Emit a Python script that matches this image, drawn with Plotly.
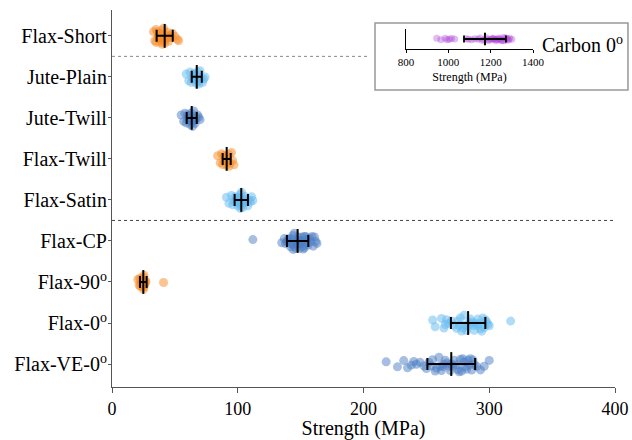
import plotly.graph_objects as go

# Specimen groups, listed bottom to top on the category axis
groups = ["Flax-VE-0<sup>o</sup>", "Flax-0<sup>o</sup>", "Flax-90<sup>o</sup>", "Flax-CP",
          "Flax-Satin", "Flax-Twill", "Jute-Twill", "Jute-Plain", "Flax-Short"]

# Individual specimen strengths (MPa)
flax_ve_0 = [218, 227, 232, 235, 238, 240, 242, 245, 248, 250, 252, 254, 255, 257, 258, 260,
             261, 262, 263, 264, 265, 266, 268, 269, 270, 271, 272, 274, 275, 276, 277, 278,
             279, 280, 281, 282, 283, 284, 285, 286, 287, 288, 290, 293, 296, 300]
flax_0 = [255, 257, 262, 264, 265, 266, 268, 270, 272, 274, 275, 276, 277, 278, 279, 280, 281,
          282, 283, 284, 285, 286, 287, 288, 289, 290, 291, 292, 293, 294, 295, 296, 297, 298,
          299, 300, 317]
flax_90 = [20.5, 21.5, 22, 22.5, 23, 23, 23.5, 24, 24, 24.5, 24.5, 25, 25, 25, 25.5, 25.5,
           26, 26, 26, 26, 26.5, 27, 41]
flax_cp = [112, 135, 137, 138, 139, 140, 140, 141, 142, 142, 143, 143, 144, 144, 145, 145, 146,
           146, 147, 147, 148, 148, 149, 149, 150, 150, 151, 151, 152, 152, 153, 153, 154, 155,
           155, 156, 157, 158, 159, 160, 161, 162, 163]
flax_satin = [91, 93, 95, 96, 97, 98, 99, 99, 100, 100, 101, 101, 102, 102, 103, 103, 104, 104,
              105, 105, 106, 107, 107, 108, 109, 110, 111, 112]
flax_twill = [84, 86, 87, 88, 89, 89, 90, 90, 91, 91, 92, 92, 93, 93, 94, 95, 96, 97]
jute_twill = [55, 57, 58, 59, 60, 60, 61, 61, 62, 62, 63, 63, 63, 64, 64, 65, 65, 66, 66, 67,
              68, 69, 70]
jute_plain = [59, 61, 62, 63, 64, 65, 65, 66, 66, 67, 67, 68, 68, 69, 69, 70, 71, 72, 73, 74]
flax_short = [33, 34, 35, 35, 36, 36, 37, 37, 38, 38, 39, 39, 40, 40, 41, 41, 42, 42, 43, 43,
              44, 44, 45, 45, 46, 47, 48, 50, 52, 53]
samples = [flax_ve_0, flax_0, flax_90, flax_cp, flax_satin, flax_twill, jute_twill,
           jute_plain, flax_short]

# Group mean and standard deviation (MPa)
mean_strength = [269.8, 283.2, 24.9, 147.6, 102.8, 91.2, 63.4, 67.4, 41.9]
sd_strength = [19.0, 13.7, 2.65, 8.5, 5.3, 3.2, 4.0, 4.0, 6.4]

# Carbon 0° reference laminate
carbon_0 = [945, 965, 985, 995, 1005, 1015, 1030, 1085, 1095, 1110, 1125, 1140, 1150, 1160,
            1170, 1180, 1185, 1190, 1200, 1205, 1210, 1215, 1220, 1225, 1230, 1235, 1240, 1245,
            1250, 1255, 1260, 1265, 1270, 1275, 1280, 1285, 1290, 1300]
carbon_mean = 1173
carbon_sd = 99

ORANGE = "rgba(245,140,40,0.5)"
LIGHT_BLUE = "rgba(100,185,240,0.5)"
DARK_BLUE = "rgba(75,125,195,0.5)"
PURPLE = "rgba(170,60,215,0.35)"
group_colors = [DARK_BLUE, LIGHT_BLUE, ORANGE, DARK_BLUE, LIGHT_BLUE, ORANGE, DARK_BLUE,
                LIGHT_BLUE, ORANGE]

FONT = "Liberation Serif, Times New Roman, serif"
AXIS_COLOR = "#555555"

fig = go.Figure()

# Jittered specimen points (box outline hidden, only the points are drawn)
for name, vals, col in zip(groups, samples, group_colors):
    fig.add_trace(go.Box(
        x=vals, y=[name] * len(vals), orientation="h",
        boxpoints="all", jitter=0.85, pointpos=0, width=0.5,
        fillcolor="rgba(0,0,0,0)", line=dict(width=0, color="rgba(0,0,0,0)"),
        marker=dict(size=9, color=col, line=dict(width=0)),
        showlegend=False, hoverinfo="x",
    ))

# Mean ± SD overlay
fig.add_trace(go.Scatter(
    x=mean_strength, y=groups, mode="markers",
    marker=dict(symbol="line-ns", size=17, color="black", line=dict(width=2, color="black")),
    error_x=dict(type="data", array=sd_strength, color="black", thickness=2, width=6),
    showlegend=False,
))

# Inset: carbon laminate
fig.add_trace(go.Box(
    x=carbon_0, y=[0] * len(carbon_0), orientation="h",
    boxpoints="all", jitter=0.8, pointpos=0, width=0.5,
    fillcolor="rgba(0,0,0,0)", line=dict(width=0, color="rgba(0,0,0,0)"),
    marker=dict(size=7, color=PURPLE, line=dict(width=0)),
    xaxis="x2", yaxis="y2", showlegend=False, hoverinfo="x",
))
fig.add_trace(go.Scatter(
    x=[carbon_mean], y=[0], mode="markers",
    marker=dict(symbol="line-ns", size=9, color="black", line=dict(width=2, color="black")),
    error_x=dict(type="data", array=[carbon_sd], color="black", thickness=1.8, width=3.5),
    xaxis="x2", yaxis="y2", showlegend=False,
))

fig.update_layout(
    width=632, height=440,
    margin=dict(l=112, r=17, t=10, b=53, autoexpand=False),
    paper_bgcolor="white", plot_bgcolor="white",
    font=dict(family=FONT, color="black"),
    boxmode="overlay",
    xaxis=dict(
        range=[0, 400], tickvals=[0, 100, 200, 300, 400], automargin=False,
        showgrid=False, zeroline=False,
        showline=True, linecolor=AXIS_COLOR, linewidth=1.2,
        ticks="outside", ticklen=5, tickcolor=AXIS_COLOR,
        tickfont=dict(size=18, family=FONT),
        title=dict(text="Strength (MPa)", font=dict(size=20, family=FONT), standoff=4),
    ),
    yaxis=dict(
        type="category", categoryorder="array", categoryarray=groups,
        range=[-0.56, 8.63], automargin=False,
        showgrid=False, zeroline=False,
        showline=True, linecolor=AXIS_COLOR, linewidth=1.2,
        ticks="outside", ticklen=3, tickcolor=AXIS_COLOR,
        ticklabelstandoff=-3,
        tickfont=dict(size=20, family=FONT),
    ),
    xaxis2=dict(
        domain=[0.5845, 0.837], anchor="y2", automargin=False,
        range=[800, 1400], tickvals=[800, 1000, 1200, 1400],
        showgrid=False, zeroline=False,
        showline=True, linecolor="black", linewidth=1,
        ticks="outside", ticklen=3, tickcolor="black",
        tickfont=dict(size=11, family=FONT),
        title=dict(text="Strength (MPa)", font=dict(size=12, family=FONT), standoff=5),
    ),
    yaxis2=dict(
        domain=[0.8966, 0.9496], anchor="x2", automargin=False,
        range=[-1, 1], showgrid=False, zeroline=False,
        showline=True, linecolor="black", linewidth=1,
        showticklabels=False, ticks="",
    ),
    shapes=[
        dict(type="line", xref="x", yref="y", x0=0, x1=205, y0=7.5, y1=7.5,
             line=dict(color="#888888", width=1, dash="dot")),
        dict(type="line", xref="x", yref="y", x0=0, x1=400, y0=3.5, y1=3.5,
             line=dict(color="#444444", width=1, dash="dot")),
        dict(type="rect", xref="paper", yref="paper", x0=0.5229, x1=1.0258, y0=0.7878, y1=0.9655,
             line=dict(color="#999999", width=1.5), fillcolor="rgba(0,0,0,0)"),
    ],
    annotations=[
        dict(text="Carbon 0<sup>o</sup>", xref="paper", yref="paper", x=0.936, y=0.91,
             xanchor="center", yanchor="middle",
             showarrow=False, font=dict(size=20, family=FONT, color="black")),
    ],
)

fig.write_html("out.html")
